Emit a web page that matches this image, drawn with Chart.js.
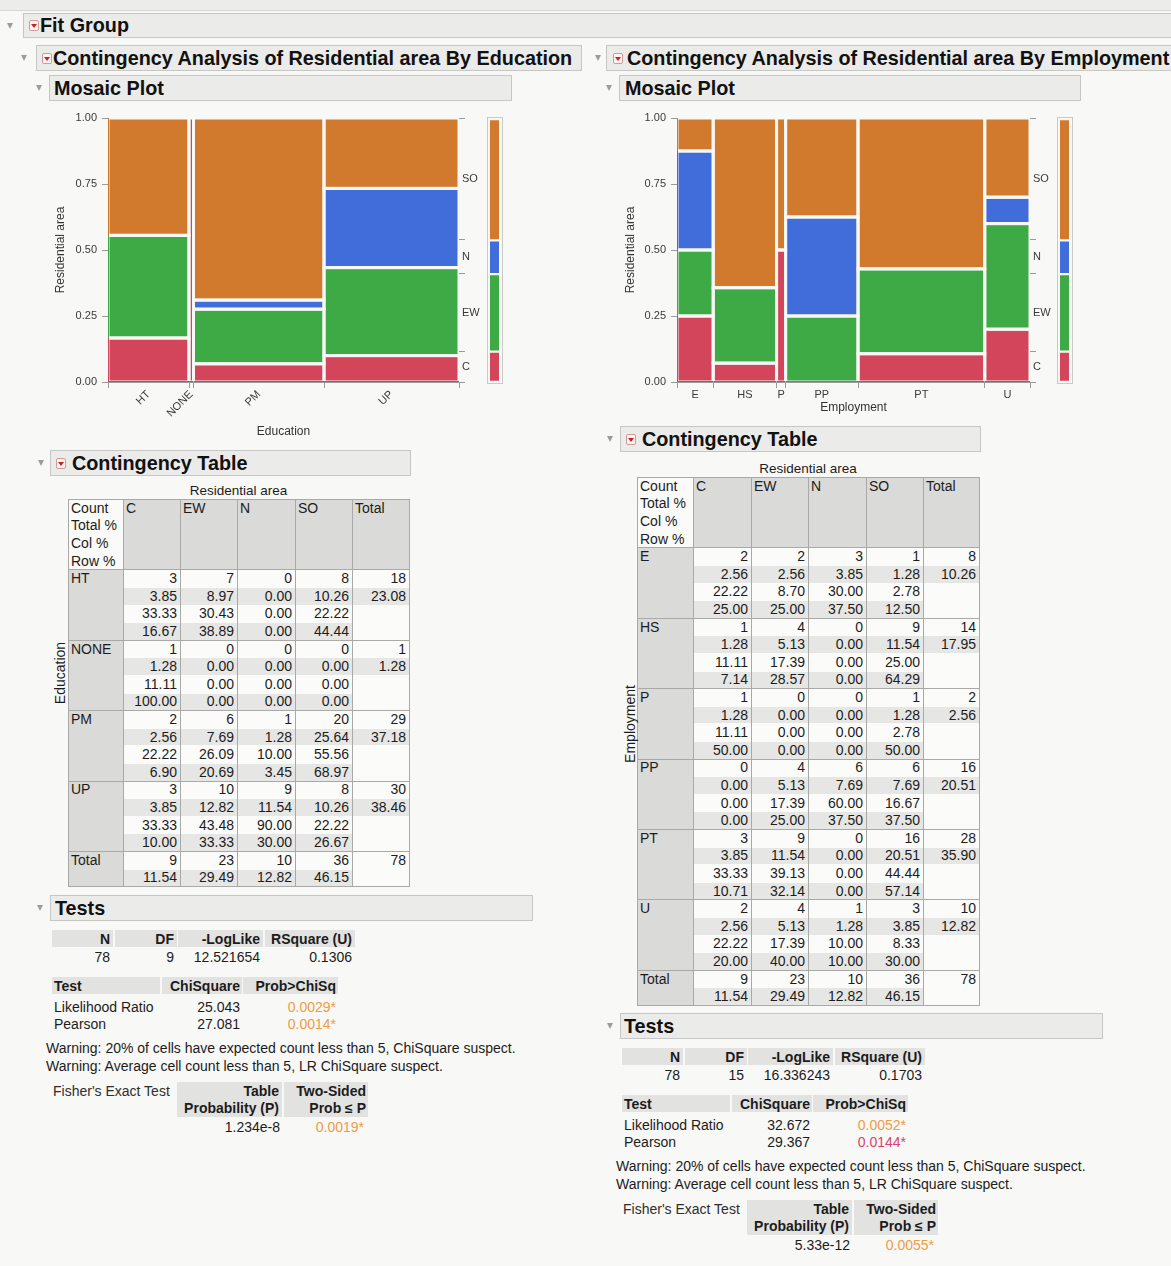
<!DOCTYPE html>
<html><head><meta charset="utf-8"><title>Fit Group</title>
<script src="https://cdn.jsdelivr.net/npm/chart.js"></script>
<style>
html,body{margin:0;padding:0}
body{background:#f8f8f6;font-family:"Liberation Sans",Arial,Helvetica,sans-serif;color:#1c1c1c;width:1171px;height:1266px;position:relative;overflow:hidden}
.a{position:absolute;white-space:nowrap}
.bar{position:absolute;background:#ebebe9;border:1px solid #c6c6c4;box-sizing:border-box;font-weight:bold;font-size:19.8px;white-space:nowrap;overflow:hidden;color:#111}
.tri{position:absolute;width:0;height:0;border-left:3.5px solid transparent;border-right:3.5px solid transparent;border-top:6px solid #9c9c9c}
.ico{position:absolute;width:10px;height:11px;border:1px solid #cf9a9a;border-radius:2px;background:#fff4f4;box-sizing:border-box}
.ico::after{content:"";position:absolute;left:1px;top:3px;border-left:3px solid transparent;border-right:3px solid transparent;border-top:4px solid #cc1f1f}
canvas{position:absolute}
</style></head><body>
<div class="a" style="left:0;top:0;width:1171px;height:10px;background:#ececea;border-bottom:1px solid #d6d6d4"></div>
<script>
// ---------- data ----------
const residentialAreas = ['C','EW','N','SO'];
const areaColors = ['#d3455a','#3eaa46','#406dda','#d1792d'];
const educationLevels = ['HT','NONE','PM','UP'];
const eduC  = [3,1,2,3];
const eduEW = [7,0,6,10];
const eduN  = [0,0,1,9];
const eduSO = [8,0,20,8];
const employmentLevels = ['E','HS','P','PP','PT','U'];
const empC  = [2,1,1,0,3,2];
const empEW = [2,4,0,4,9,4];
const empN  = [3,0,0,6,0,1];
const empSO = [1,9,1,6,16,3];
const yTickValues = [0,0.25,0.5,0.75,1];
const countLabels = ['Count','Total %','Col %','Row %'];
const eduSummary = ['78','9','12.521654','0.1306'];
const eduChiSquare = ['25.043','27.081'];
const eduProb = ['0.0029*','0.0014*'];
const eduFisher = ['1.234e-8','0.0019*'];
const empSummary = ['78','15','16.336243','0.1703'];
const empChiSquare = ['32.672','29.367'];
const empProb = ['0.0052*','0.0144*'];
const empFisher = ['5.33e-12','0.0055*'];
const testNames = ['Likelihood Ratio','Pearson'];
const warnings = ['Warning: 20% of cells have expected count less than 5, ChiSquare suspect.',
                  'Warning: Average cell count less than 5, LR ChiSquare suspect.'];

const PAGE_BG = '#f8f8f6';
const ORANGE_P = '#ef9c45';
const PINK_P = '#d8426f';

// ---------- helpers ----------
function box(x0,y0,x1,y1,c){const d=document.createElement('div');d.className='a';Object.assign(d.style,{left:x0+'px',top:y0+'px',width:(x1-x0)+'px',height:(y1-y0)+'px',background:c});document.body.appendChild(d);return d;}
function hline(x0,x1,y,c){return box(x0,y,x1+1,y+1,c||'#a9a9a7');}
function vline(x,y0,y1,c){return box(x,y0,x+1,y1+1,c||'#a9a9a7');}
function txt(x,yc,t,o){o=o||{};const d=document.createElement('div');d.className='a';d.textContent=t;
  const fs=o.size||14;d.style.fontSize=fs+'px';d.style.lineHeight='18px';d.style.top=(yc-9)+'px';
  if(o.align==='right'){d.style.left=(x-400)+'px';d.style.width='400px';d.style.textAlign='right';}
  else if(o.align==='center'){d.style.left=(x-200)+'px';d.style.width='400px';d.style.textAlign='center';}
  else d.style.left=x+'px';
  if(o.bold)d.style.fontWeight='bold';if(o.color)d.style.color=o.color;
  if(o.rot){d.style.transform='rotate(-90deg)';}
  document.body.appendChild(d);return d;}
function header(x,y,w,h,text,textX,triX,icoX){
  const b=document.createElement('div');b.className='bar';
  Object.assign(b.style,{left:x+'px',top:y+'px',width:w+'px',height:h+'px',lineHeight:(h-2)+'px',paddingLeft:(textX-x-1)+'px'});
  b.textContent=text;document.body.appendChild(b);
  const t=document.createElement('div');t.className='tri';t.style.left=triX+'px';t.style.top=(y+h/2-3)+'px';document.body.appendChild(t);
  if(icoX!=null){const i=document.createElement('div');i.className='ico';i.style.left=icoX+'px';i.style.top=(y+h/2-5.5)+'px';document.body.appendChild(i);}
}
const sum=a=>a.reduce((s,v)=>s+v,0);

// ---------- headers ----------
header(23,13,1160,25,'Fit Group',40,7,29);
header(36,45,546,26,'Contingency Analysis of Residential area By Education',53,21,42);
header(606,45,580,26,'Contingency Analysis of Residential area By Employment',627,595,613);
header(49,75,463,26,'Mosaic Plot',54,36,null);
header(619,75,462,26,'Mosaic Plot',625,606,null);
header(50,450,361,26,'Contingency Table',72,38,56);
header(620,426,361,26,'Contingency Table',642,607,626);
header(50,895,483,26,'Tests',55,37,null);
header(620,1013,483,26,'Tests',624,607,null);

// ---------- mosaic charts ----------
Chart.defaults.font.family='"Liberation Sans", Arial, sans-serif';
Chart.defaults.font.size=11;
Chart.defaults.color='#3a3a3a';

const gapPlugin={id:'mosaicGaps',afterDatasetsDraw(chart){
  const {ctx,chartArea:a,scales:{x,y}}=chart;
  ctx.save();ctx.beginPath();ctx.rect(a.left+1,a.top,a.width-1,a.height-1);ctx.clip();
  ctx.strokeStyle=PAGE_BG;ctx.lineWidth=3;
  chart.data.datasets.forEach(ds=>{if(!ds.cell)return;const c=ds.cell;
    const L=x.getPixelForValue(c.x0),R=x.getPixelForValue(c.x1),T=y.getPixelForValue(c.y1),B=y.getPixelForValue(c.y0);
    ctx.strokeRect(L,T,R-L,B-T);});
  ctx.restore();}};

function mosaic(o){
  const series=o.series,cats=o.cats;
  const catTot=cats.map((_,i)=>series.reduce((s,a)=>s+a[i],0));
  const N=sum(catTot);
  const areaTot=series.map(sum);
  const datasets=[],xTicks=[{value:0}];let xc=0;
  cats.forEach((c,i)=>{
    const x0=xc,x1=xc+catTot[i]/N;let yc=0;
    series.forEach((a,s)=>{const y0=yc,y1=yc+a[i]/catTot[i];yc=y1;
      if(a[i]>0)datasets.push({label:residentialAreas[s]+' | '+c,data:[{x:x0,y:y1},{x:x1,y:y1}],fill:{value:y0},
        backgroundColor:areaColors[s],borderWidth:0,pointRadius:0,cell:{x0,x1,y0,y1}});});
    xTicks.push({value:(x0+x1)/2,lbl:c});xTicks.push({value:x1});xc=x1;});
  const yTicks2=[{value:0}];let yc=0;
  residentialAreas.forEach((r,s)=>{const y0=yc,y1=yc+areaTot[s]/N;yTicks2.push({value:(y0+y1)/2,lbl:r});yTicks2.push({value:y1});yc=y1;});
  const cv=document.createElement('canvas');cv.width=o.w;cv.height=o.h;cv.style.left=o.left+'px';cv.style.top=o.top+'px';
  cv.style.width=o.w+'px';cv.style.height=o.h+'px';document.body.appendChild(cv);
  const tickCol=ctx=>(ctx.tick&&ctx.tick.lbl)?'rgba(0,0,0,0)':'#9a9a9a';
  new Chart(cv,{type:'line',data:{datasets},plugins:[gapPlugin],
    options:{responsive:false,animation:false,events:[],devicePixelRatio:1,
      layout:{padding:{top:o.padTop,left:0,right:0,bottom:0}},
      plugins:{legend:{display:false},tooltip:{enabled:false}},
      scales:{
        x:{type:'linear',min:0,max:1,afterBuildTicks:s=>{s.ticks=xTicks.map(t=>({value:t.value,lbl:t.lbl}));},
          afterFit:s=>{s.height=o.xH;},
          ticks:{autoSkip:false,minRotation:o.rot,maxRotation:o.rot,padding:0,callback:(v,i,t)=>t[i].lbl||'',font:{size:11}},
          grid:{drawOnChartArea:false,tickLength:6,tickColor:tickCol},border:{color:'#9a9a9a'},
          title:{display:true,text:o.xTitle,font:{size:12},color:'#333',padding:{top:2,bottom:o.xTitlePad}}},
        y:{type:'linear',min:0,max:1,afterBuildTicks:s=>{s.ticks=yTickValues.map(v=>({value:v}));},
          afterFit:s=>{s.width=o.yW;},
          ticks:{callback:v=>Number(v).toFixed(2),padding:5,font:{size:11}},
          grid:{drawOnChartArea:false,tickLength:6,tickColor:'#9a9a9a'},border:{color:'#9a9a9a'},
          title:{display:true,text:'Residential area',font:{size:12},color:'#333',padding:{top:o.yTitlePad,bottom:2}}},
        y2:{type:'linear',position:'right',min:0,max:1,afterBuildTicks:s=>{s.ticks=yTicks2.map(t=>({value:t.value,lbl:t.lbl}));},
          afterFit:s=>{s.width=o.y2W;},
          ticks:{autoSkip:false,callback:(v,i,t)=>t[i].lbl||'',padding:-3,font:{size:11}},
          grid:{drawOnChartArea:false,tickLength:6,tickColor:tickCol},border:{display:false}}
      }}});
  // marginal bar
  box(o.margX,117,o.margX+16,384,'#c9c9c7');box(o.margX+1,118,o.margX+15,383,PAGE_BG);
  const mc=document.createElement('canvas');mc.width=9;mc.height=263;mc.style.left=(o.margX+3)+'px';mc.style.top='119px';
  mc.style.width='9px';mc.style.height='263px';document.body.appendChild(mc);
  new Chart(mc,{type:'bar',data:{labels:['All'],datasets:residentialAreas.map((r,s)=>({label:r,data:[areaTot[s]/N],backgroundColor:areaColors[s],
      borderColor:PAGE_BG,borderWidth:{top:1.5,bottom:1.5,left:0,right:0},borderSkipped:false,barPercentage:1,categoryPercentage:1}))},
    options:{responsive:false,animation:false,events:[],devicePixelRatio:1,layout:{padding:0},
      plugins:{legend:{display:false},tooltip:{enabled:false}},
      scales:{x:{stacked:true,display:false},y:{stacked:true,display:false,min:0,max:1}}}});
}
mosaic({cats:educationLevels,series:[eduC,eduEW,eduN,eduSO],left:40,top:105,w:450,h:337,yW:68,y2W:31,xH:60,padTop:13,rot:45,
  xTitle:'Education',xTitlePad:2.8,yTitlePad:13.5,margX:487});
mosaic({cats:employmentLevels,series:[empC,empEW,empN,empSO],left:605,top:105,w:450,h:315,yW:72,y2W:25,xH:38,padTop:13,rot:0,
  xTitle:'Employment',xTitlePad:4.8,yTitlePad:18.8,margX:1057});

// ---------- contingency tables ----------
function buildCT(o){
  const {left,top,colW,subH,cats,series}=o;
  const rowTot=cats.map((_,r)=>series.reduce((s,a)=>s+a[r],0));
  const colTot=series.map(sum);const N=sum(colTot);
  const xs=[left];colW.forEach(w=>xs.push(xs[xs.length-1]+w));
  const f=v=>v.toFixed(2);
  const groups=[{header:true,lines:4}];
  cats.forEach((c,r)=>{const cells=series.map((a,ci)=>[String(a[r]),f(100*a[r]/N),f(100*a[r]/colTot[ci]),f(100*a[r]/rowTot[r])]);
    cells.push([String(rowTot[r]),f(100*rowTot[r]/N),'','']);groups.push({label:c,lines:4,cells});});
  const tc=series.map((a,ci)=>[String(colTot[ci]),f(100*colTot[ci]/N)]);tc.push([String(N),'']);
  groups.push({label:'Total',lines:2,cells:tc});
  let y=top;const hys=[];
  groups.forEach(g=>{const h=g.lines*subH;hys.push(y);
    if(g.header){box(xs[0],y,xs[1],y+h,'#fafaf9');
      countLabels.forEach((t,i)=>txt(xs[0]+3,y+subH*(i+0.5),t));
      residentialAreas.concat(['Total']).forEach((t,i)=>{box(xs[i+1],y,xs[i+2],y+h,'#dadad8');txt(xs[i+1]+3,y+subH*0.5,t);});
    }else{box(xs[0],y,xs[1],y+h,'#dadad8');txt(xs[0]+3,y+subH*0.5,g.label);
      g.cells.forEach((lines,ci)=>{box(xs[ci+1],y,xs[ci+2],y+h,'#fbfbfa');
        lines.forEach((t,li)=>{if(t==='')return;
          if(li%2===1)box(xs[ci+1],y+li*subH+1,xs[ci+2],y+(li+1)*subH,'#e6e6e4');
          txt(xs[ci+2]-3,y+subH*(li+0.5),t,{align:'right'});});});}
    y+=h;});
  hys.push(y);
  hys.forEach(yy=>hline(xs[0],xs[xs.length-1],yy));
  xs.forEach(xx=>vline(xx,top,y));
  txt((xs[0]+xs[xs.length-1])/2,top-8.5,'Residential area',{align:'center',size:13.5});
  txt(o.rowTitleX,o.rowTitleY,o.rowTitle,{align:'center',size:14,rot:true});
}
buildCT({left:68,top:499,colW:[55,57,57,58,57,57],subH:17.6,cats:educationLevels,series:[eduC,eduEW,eduN,eduSO],
  rowTitle:'Education',rowTitleX:60,rowTitleY:673});
buildCT({left:637,top:477,colW:[56,58,57,58,57,56],subH:17.6,cats:employmentLevels,series:[empC,empEW,empN,empSO],
  rowTitle:'Employment',rowTitleX:630,rowTitleY:724});

// ---------- tests ----------
function tests(dx,dy,summary,chi,prob,probCols,fisher,fisherCol){
  const h1=[[52,113,'N'],[115,177,'DF'],[178,263,'-LogLike'],[265,355,'RSquare (U)']];
  h1.forEach(([a,b,t],i)=>{box(a+dx,930+dy,b+dx,947+dy,'#e2e2e0');txt(b+dx-3,938.5+dy,t,{align:'right',bold:true});
    txt(b+dx-3,957+dy,summary[i],{align:'right'});});
  box(52+dx,977+dy,160+dx,994+dy,'#e2e2e0');box(162+dx,977+dy,242+dx,994+dy,'#e2e2e0');box(243+dx,977+dy,338+dx,994+dy,'#e2e2e0');
  txt(54+dx,985.5+dy,'Test',{bold:true});txt(240+dx,985.5+dy,'ChiSquare',{align:'right',bold:true});
  txt(336+dx,985.5+dy,'Prob>ChiSq',{align:'right',bold:true});
  testNames.forEach((n,i)=>{const yc=1006.5+17.8*i+dy;txt(54+dx,yc,n);txt(240+dx,yc,chi[i],{align:'right'});
    txt(336+dx,yc,prob[i],{align:'right',color:probCols[i]});});
  warnings.forEach((w,i)=>txt(46+dx,1047.5+18*i+dy,w));
  txt(53+dx,1091+dy,"Fisher's Exact Test",{color:'#2e2e2e'});
  box(177+dx,1082+dy,282+dx,1117+dy,'#e2e2e0');box(283.5+dx,1082+dy,368+dx,1117+dy,'#e2e2e0');
  txt(279+dx,1091+dy,'Table',{align:'right',bold:true});txt(279+dx,1108+dy,'Probability (P)',{align:'right',bold:true});
  txt(366+dx,1091+dy,'Two-Sided',{align:'right',bold:true});txt(366+dx,1108+dy,'Prob \u2264 P',{align:'right',bold:true});
  txt(280+dx,1127+dy,fisher[0],{align:'right'});txt(364+dx,1127+dy,fisher[1],{align:'right',color:fisherCol});
}
tests(0,0,eduSummary,eduChiSquare,eduProb,[ORANGE_P,ORANGE_P],eduFisher,ORANGE_P);
tests(570,118,empSummary,empChiSquare,empProb,[ORANGE_P,PINK_P],empFisher,ORANGE_P);
</script>
</body></html>
